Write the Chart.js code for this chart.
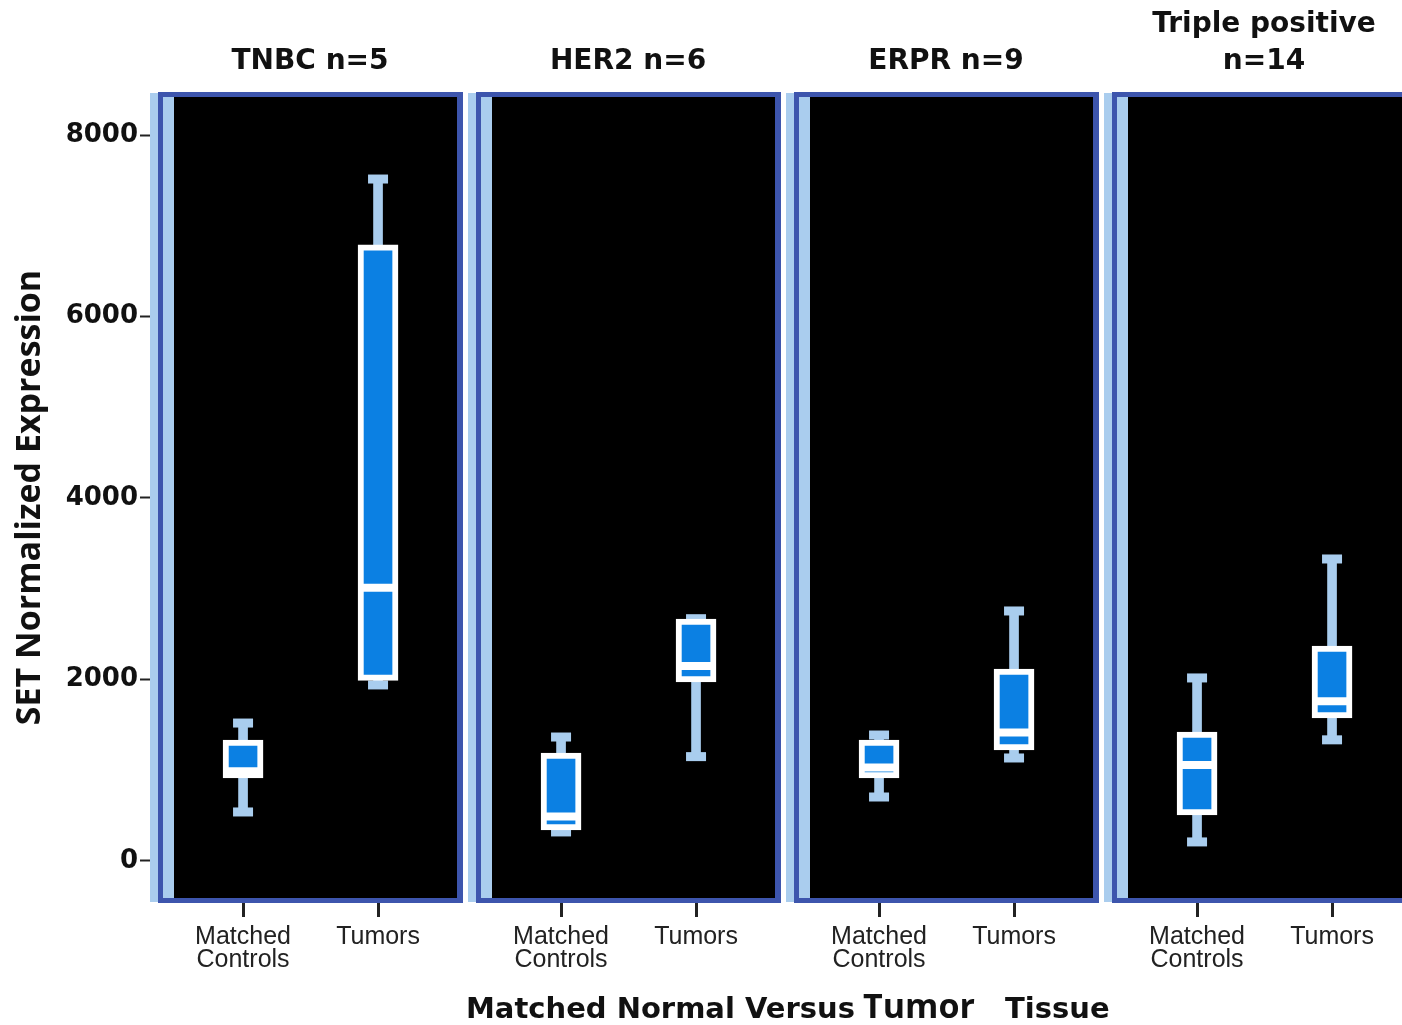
<!DOCTYPE html>
<html>
<head>
<meta charset="utf-8">
<title>SET expression by subtype</title>
<script src="https://cdn.jsdelivr.net/npm/chart.js@4.4.1/dist/chart.umd.min.js"></script>
<style>
  html, body { margin: 0; padding: 0; background: #fff; overflow: hidden; }
  #wrap { position: relative; width: 1402px; height: 1025px; overflow: hidden; }
  #wrap canvas { position: absolute; top: 0; }
  .xt { position: absolute; white-space: pre; font-weight: bold; color: #111; }
  .xt.a { font-family: "DejaVu Sans"; font-size: 29px; line-height: 29px; top: 994px; }
  .xt.b { font-family: "Open Sans"; font-size: 34px; line-height: 34px; top: 988px; }
</style>
</head>
<body>
<div id="wrap">
  <canvas id="c0" width="466" height="1000" style="left:0px"></canvas>
  <canvas id="c1" width="316" height="1000" style="left:468px"></canvas>
  <canvas id="c2" width="316" height="1000" style="left:786px"></canvas>
  <canvas id="c3" width="316" height="1000" style="left:1104px"></canvas>
  <span class="xt a" style="left:466px">Matched Normal Versus</span>
  <span class="xt b" style="left:863px">Tumor</span>
  <span class="xt a" style="left:1005px">Tissue</span>
</div>
<script>
// subtype panels, each has matched controls and tumors
const groupTitles = [['', 'TNBC n=5'], ['', 'HER2 n=6'], ['', 'ERPR n=9'], ['Triple positive', 'n=14']];
const categoryLabels = [['Matched', 'Controls'], 'Tumors'];
const yTicks = [0, 2000, 4000, 6000, 8000];

// box plot stats per panel: [controls, tumors]
const mins    = [[540, 1940], [320, 1150], [705, 1135], [210, 1335]];
const q1s     = [[915, 1990], [342, 1972], [915, 1223], [507, 1576]];
const medians = [[990, 3010], [490, 2150], [1030, 1416], [1058, 1760]];
const q3s     = [[1333, 6790], [1190, 2665], [1333, 2116], [1421, 2369]];
const maxs    = [[1520, 7515], [1366, 2670], [1388, 2755], [2017, 3328]];

const BLUE = '#0b80e3';
const LIGHT = '#a9cdee';
const FRAME_DARK = '#3d55ad';
const FRAME_LIGHT = '#aacdee';

// black plot area with the blue frame and strips
const panelFrame = {
  id: 'panelFrame',
  beforeDatasetsDraw(chart) {
    const { ctx, chartArea: a } = chart;
    const w = a.right - a.left, h = a.bottom - a.top;
    ctx.save();
    ctx.fillStyle = FRAME_LIGHT;
    ctx.fillRect(a.left - 13, a.top - 4, 8, h + 8);
    ctx.fillStyle = FRAME_DARK;
    ctx.fillRect(a.left - 5, a.top - 5, w + 11, h + 10);
    ctx.fillStyle = '#000';
    ctx.fillRect(a.left, a.top, w, h);
    ctx.fillStyle = FRAME_LIGHT;
    ctx.fillRect(a.left, a.top, 11, h);
    ctx.restore();
  }
};

function makeChart(i) {
  const first = i === 0;
  const pts = (arr) => [0, 1].map(k => ({ x: k, y: arr[i][k] }));
  const range = (lo, hi) => [0, 1].map(k => ({ x: k, y: [lo[i][k], hi[i][k]] }));

  return new Chart(document.getElementById('c' + i), {
    type: 'bar',
    data: {
      datasets: [
        // whiskers
        { type: 'bar', order: 3, data: range(mins, maxs), backgroundColor: LIGHT,
          barThickness: 9, grouped: false },
        // whisker caps
        { type: 'line', order: 2, showLine: false, data: [...pts(mins), ...pts(maxs)],
          pointStyle: 'line', pointRadius: 10, pointBorderWidth: 9, pointBorderColor: LIGHT },
        // boxes
        { type: 'bar', order: 1, data: range(q1s, q3s), backgroundColor: BLUE,
          borderColor: '#fff', borderWidth: 6, borderSkipped: false, barThickness: 40, grouped: false },
        // medians
        { type: 'line', order: 0, showLine: false, data: pts(medians),
          pointStyle: 'line', pointRadius: 17, pointBorderWidth: 8, pointBorderColor: '#fff' }
      ]
    },
    options: {
      responsive: false,
      animation: false,
      events: [],
      layout: { autoPadding: false, padding: { left: first ? 0 : 13, right: 9, top: 0, bottom: 0 } },
      plugins: {
        legend: { display: false },
        tooltip: { enabled: false },
        title: {
          display: true,
          text: groupTitles[i],
          fullSize: false,
          color: '#111',
          font: { family: 'DejaVu Sans', size: 28, weight: 'bold', lineHeight: '37px' },
          padding: { top: 6.5, bottom: 16.5 }
        }
      },
      scales: {
        x: {
          type: 'linear',
          min: -0.593,
          max: 1.585,
          offset: false,
          afterBuildTicks: s => { s.ticks = [0, 1].map(v => ({ value: v })); },
          afterFit: s => { s.height = 102; s.paddingLeft = 0; s.paddingRight = 0; },
          ticks: {
            callback: v => categoryLabels[v],
            color: '#222',
            font: { family: 'Liberation Sans', size: 25, lineHeight: 0.92 },
            padding: 9,
            maxRotation: 0,
            minRotation: 0,
            autoSkip: false
          },
          grid: { drawOnChartArea: false, tickLength: 19, tickWidth: 3, tickColor: '#222', offset: false },
          border: { display: false }
        },
        y: {
          display: first,
          min: -408,
          max: 8419,
          afterBuildTicks: s => { s.ticks = yTicks.map(v => ({ value: v })); },
          afterFit: s => {
            s.width = first ? 163 : 0;
            s.paddingTop = 0;
            s.paddingBottom = 0;
          },
          ticks: {
            callback: v => String(v),
            color: '#111',
            font: { family: 'DejaVu Sans', size: 26, weight: 'bold' },
            padding: 2
          },
          grid: { drawOnChartArea: false, tickLength: 23, tickWidth: 2, tickColor: '#222' },
          border: { display: false },
          title: {
            display: true,
            text: 'SET Normalized Expression',
            color: '#111',
            font: { family: 'Open Sans', size: 34, weight: 'bold' },
            padding: { top: 10, bottom: 0 }
          }
        }
      }
    },
    plugins: [panelFrame]
  });
}

[0, 1, 2, 3].forEach(makeChart);
</script>
</body>
</html>
